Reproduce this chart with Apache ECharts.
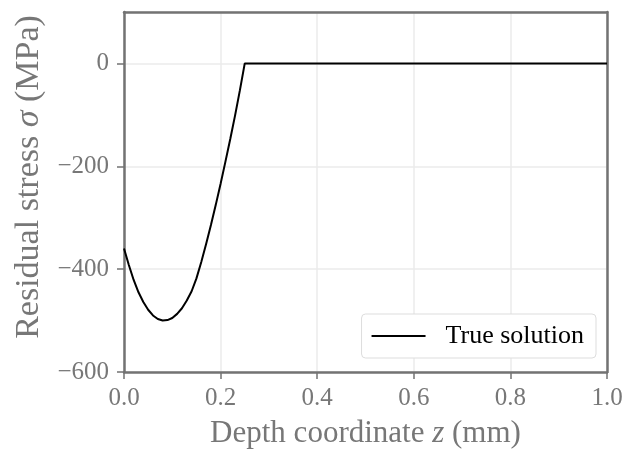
<!DOCTYPE html>
<html>
<head>
<meta charset="utf-8">
<script src="https://cdn.jsdelivr.net/npm/echarts@6/dist/echarts.min.js"></script>
<style>
html,body{margin:0;padding:0;background:#fff;}
#chart{width:636px;height:449px;}
</style>
</head>
<body>
<div id="chart"></div>
<script>
// Depth coordinate z (mm)
const depth = [0, 0.01, 0.02, 0.03, 0.04, 0.05, 0.06, 0.07, 0.08, 0.09, 0.10, 0.11, 0.12, 0.13, 0.14, 0.15, 0.16, 0.17, 0.18, 0.19, 0.20, 0.21, 0.22, 0.23, 0.24, 0.25, 1.0];
// Residual stress (MPa), true solution
const stress = [-360, -392, -421, -445, -464, -479, -490, -497, -500, -499, -495, -487, -476, -461, -443, -418, -386, -351, -314, -275, -234, -191, -147, -101, -52, 0, 0];
const xTicks = [0, 0.2, 0.4, 0.6, 0.8, 1.0];
const yTicks = [-600, -400, -200, 0];
const seriesName = 'True solution';

const gray = '#737373';
const textGray = '#777777';
const fontFam = '"Liberation Serif", "DejaVu Serif", serif';

const frameAxis = {
  axisLine: {show: true, onZero: false, lineStyle: {color: gray, width: 2.5}},
  axisTick: {show: false}, axisLabel: {show: false}, splitLine: {show: false}
};

const chart = echarts.init(document.getElementById('chart'), null, {renderer: 'canvas'});
chart.setOption({
  animation: false,
  backgroundColor: '#ffffff',
  grid: {left: 124, right: 29, top: 12, bottom: 77, show: false, containLabel: false, outerBoundsMode: 'none'},
  legend: {
    right: 40, bottom: 91,
    data: [seriesName],
    itemWidth: 54, itemHeight: 14,
    padding: [9, 12, 9, 10],
    backgroundColor: '#ffffff',
    borderColor: '#dddddd', borderWidth: 1, borderRadius: 4,
    icon: 'path://M0,6 L54,6 L54,8 L0,8 Z',
    textStyle: {fontFamily: fontFam, fontSize: 26, color: '#000000', padding: [0, 0, 0, 15]}
  },
  xAxis: [{
    type: 'value', min: 0, max: 1, interval: 0.2,
    name: 'Depth coordinate {i|z} (mm)',
    nameLocation: 'middle', nameGap: 46,
    nameTextStyle: {fontFamily: fontFam, fontSize: 31, color: textGray,
      rich: {i: {fontFamily: fontFam, fontSize: 31, color: textGray, fontStyle: 'italic'}}},
    axisLine: {show: true, onZero: false, lineStyle: {color: gray, width: 2.5}},
    axisTick: {show: true, inside: false, length: 7, lineStyle: {color: gray, width: 1.5}},
    axisLabel: {fontFamily: fontFam, fontSize: 25, color: textGray, margin: 14,
      formatter: v => (xTicks.some(t => Math.abs(t - v) < 1e-9) ? v.toFixed(1) : '')},
    splitLine: {show: true, lineStyle: {color: '#ebebeb', width: 1.5}}
  }, Object.assign({type: 'value', min: 0, max: 1, position: 'top'}, frameAxis)],
  yAxis: [{
    type: 'value', min: -600, max: 100, interval: 200,
    name: 'Residual stress {i|σ} (MPa)',
    nameLocation: 'middle', nameGap: 77,
    nameTextStyle: {fontFamily: fontFam, fontSize: 34, color: textGray, padding: [0, 0, 0, 30],
      rich: {i: {fontFamily: fontFam, fontSize: 34, color: textGray, fontStyle: 'italic'}}},
    axisLine: {show: true, onZero: false, lineStyle: {color: gray, width: 2.5}},
    axisTick: {show: true, inside: false, length: 7, lineStyle: {color: gray, width: 1.5}},
    axisLabel: {fontFamily: fontFam, fontSize: 25, color: textGray, margin: 15, showMaxLabel: false,
      formatter: v => (yTicks.indexOf(v) >= 0 ? String(v).replace('-', '\u2212') : '')},
    splitLine: {show: true, lineStyle: {color: '#ebebeb', width: 1.5}}
  }, Object.assign({type: 'value', min: -600, max: 100, position: 'right'}, frameAxis)],
  series: [{
    name: seriesName,
    type: 'line',
    xAxisIndex: 0, yAxisIndex: 0,
    data: depth.map((z, i) => [z, stress[i]]),
    smooth: false,
    showSymbol: false,
    lineStyle: {color: '#000000', width: 2},
    itemStyle: {color: '#000000'}
  }]
});
</script>
</body>
</html>
